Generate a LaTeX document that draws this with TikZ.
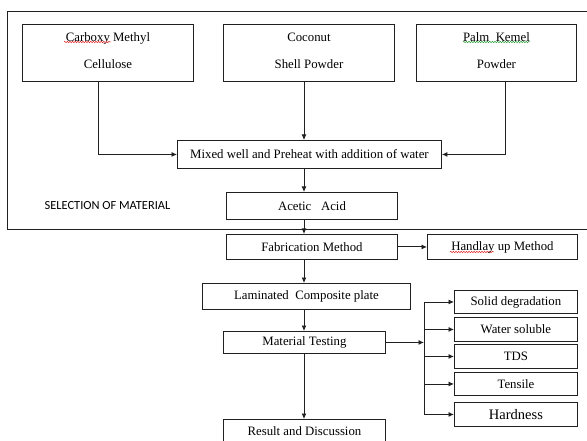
\documentclass[tikz,border=0pt]{standalone}
\usepackage{fontspec}
\setmainfont{Liberation Serif}
\newfontfamily\selfont{Carlito}
\usetikzlibrary{arrows.meta,decorations.pathmorphing}
\definecolor{ln}{HTML}{202020}
\definecolor{spellred}{HTML}{E03030}
\definecolor{spellgreen}{HTML}{30A040}
\tikzset{
  box/.style={draw=ln, line width=0.9pt, inner sep=0pt, anchor=north west, align=center,
    font=\fontsize{12.8}{15}\selectfont},
  conn/.style={draw=ln, line width=0.9pt},
  arr/.style={conn, -{Latex[length=5.5pt,width=5pt]}},
  squig/.style={line width=0.5pt, decorate, decoration={snake, amplitude=0.8pt, segment length=2.6pt}}
}
\begin{document}
\begin{tikzpicture}[x=1pt,y=-1pt]
\useasboundingbox (0,0) rectangle (587,441);
% frame
\draw[conn] (592,11) -- (7.5,11) -- (7.5,229) -- (592,229);
\node[font=\selfont\fontsize{12.4}{14}\selectfont] (sel) at (107.5,206) {SELECTION OF MATERIAL};
% top boxes
\node[box, minimum width=171pt, minimum height=57pt] (cmc) at (22,24) {Carboxy Methyl\\[12pt]Cellulose\\[-11pt]};
\node[box, minimum width=171pt, minimum height=57pt] (csp) at (223,24) {Coconut\\[12pt]Shell Powder\\[-11pt]};
\node[box, minimum width=160pt, minimum height=57pt] (pkp) at (416,24) {Palm\ \ Kemel\\[12pt]Powder\\[-11pt]};
% squiggles (spell-check marks)
\draw[spellred, squig] (64,42) -- (111,42);
\draw[spellgreen, squig] (463,42) -- (530,42);
\draw[spellred, squig] (450,252) -- (494,252);
% middle
\node[box, minimum width=264pt, minimum height=28pt] (mix) at (177,140) {Mixed well and Preheat with addition of water};
\node[box, minimum width=171pt, minimum height=27pt] (ace) at (226,192) {Acetic\ \ \ Acid};
\node[box, minimum width=171pt, minimum height=25pt] (fab) at (226,234) {Fabrication Method};
\node[box, minimum width=150pt, minimum height=25pt] (hand) at (427,234) {Handlay up Method};
\node[box, minimum width=208pt, minimum height=26pt] (lam) at (202,283) {Laminated\ \ Composite plate};
\node[box, minimum width=162pt, minimum height=22pt] (mat) at (223,331) {Material Testing};
\node[box, minimum width=162pt, minimum height=24pt] (res) at (223,419) {Result and Discussion};
% test boxes
\node[box, minimum width=123pt, minimum height=23pt] (solid) at (454,290) {Solid degradation};
\node[box, minimum width=123pt, minimum height=24pt] (water) at (454,317) {Water soluble};
\node[box, minimum width=123pt, minimum height=24pt] (tds) at (454,344) {TDS};
\node[box, minimum width=123pt, minimum height=23pt] (tens) at (454,372) {Tensile};
\node[box, minimum width=123pt, minimum height=24pt, font=\fontsize{14.5}{17}\selectfont] (hard) at (454,402) {Hardness};
% connectors
\coordinate (mx) at (304,0);
\coordinate (br) at (424,0);
\draw[arr] ([xshift=76pt]cmc.south west) |- (mix.west);
\draw[arr] (cmc.south -| mx) -- (mix.north -| mx);
\draw[arr] ([xshift=89pt]pkp.south west) |- (mix.east);
\draw[arr] (mix.south -| mx) -- (ace.north -| mx);
\draw[arr] (ace.south -| mx) -- (fab.north -| mx);
\draw[arr] (fab.east) -- (hand.west);
\draw[arr] (fab.south -| mx) -- (lam.north -| mx);
\draw[arr] (lam.south -| mx) -- (mat.north -| mx);
\draw[arr] (mat.south -| mx) -- (res.north -| mx);
\draw[arr] (mat.east) -- (mat.east -| br);
\draw[conn] (br |- solid.west) -- (br |- hard.west);
\foreach \t in {solid,water,tds,tens,hard}{
  \draw[arr] (br |- \t.west) -- (\t.west);
}
\end{tikzpicture}
\end{document}
